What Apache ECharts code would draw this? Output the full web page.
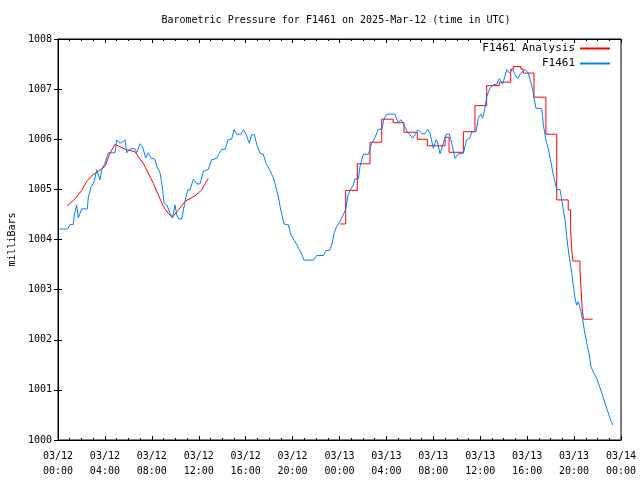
<!DOCTYPE html>
<html><head><meta charset="utf-8">
<script src="https://cdn.jsdelivr.net/npm/echarts@6/dist/echarts.min.js"></script>
<style>html,body{margin:0;padding:0;background:#fff}#c{width:640px;height:480px}</style>
</head><body><div id="c"></div>
<script>
const xTickLabels = ["03/12\n00:00","03/12\n04:00","03/12\n08:00","03/12\n12:00","03/12\n16:00","03/12\n20:00","03/13\n00:00","03/13\n04:00","03/13\n08:00","03/13\n12:00","03/13\n16:00","03/13\n20:00","03/14\n00:00"];
const yTickLabels = ["1000","1001","1002","1003","1004","1005","1006","1007","1008"];

// hours since 03/12 00:00 UTC
const obsHours = [0.09,0.83,1.02,1.30,1.39,1.59,1.73,2.02,2.50,2.58,2.79,3.09,3.30,3.58,3.73,4.01,4.29,4.86,5.00,5.20,5.43,5.71,5.86,6.14,6.56,6.71,6.99,7.19,7.48,7.70,7.93,8.27,8.42,8.70,8.89,9.04,9.27,9.55,9.75,9.98,10.12,10.32,10.55,10.83,11.06,11.25,11.54,11.83,12.11,12.39,12.81,13.10,13.53,13.67,13.96,14.24,14.52,14.81,15.01,15.24,15.58,15.80,16.03,16.31,16.51,16.74,16.94,17.22,17.50,17.73,18.02,18.30,18.50,18.78,18.99,19.27,19.64,19.87,20.12,20.40,20.57,20.86,20.97,21.77,22.06,22.62,22.85,23.13,23.34,23.53,23.76,24.04,24.32,24.55,24.70,24.90,25.18,25.32,25.60,25.75,26.03,26.46,26.75,27.03,27.31,27.60,27.79,28.02,28.73,29.01,29.22,29.44,29.78,30.24,30.72,31.01,31.29,31.52,31.72,32.00,32.23,32.34,32.57,32.85,33.08,33.36,33.57,33.85,34.13,34.56,34.84,35.13,35.27,35.64,35.83,36.04,36.21,36.40,36.55,36.83,37.12,37.40,37.63,37.91,38.26,38.48,38.77,38.96,39.19,39.47,39.82,40.10,40.30,40.47,40.58,40.75,41.24,41.38,41.61,41.80,42.01,42.23,42.52,42.80,42.95,43.08,43.23,43.37,43.51,43.65,43.80,43.93,44.08,44.22,44.36,44.50,44.59,44.73,44.87,45.08,45.27,45.44,45.70,45.98,46.27,46.55,46.83,47.06,47.29];
const obsValues = [1004.21,1004.21,1004.30,1004.30,1004.49,1004.69,1004.43,1004.61,1004.61,1004.83,1005.03,1005.16,1005.39,1005.19,1005.39,1005.53,1005.73,1005.73,1005.99,1005.93,1005.93,1005.99,1005.73,1005.81,1005.81,1005.73,1005.91,1005.86,1005.63,1005.73,1005.63,1005.60,1005.46,1005.33,1005.06,1004.73,1004.69,1004.53,1004.43,1004.69,1004.49,1004.41,1004.41,1004.76,1004.99,1004.99,1005.20,1005.11,1005.11,1005.36,1005.40,1005.59,1005.62,1005.69,1005.80,1005.80,1006.00,1006.00,1006.19,1006.10,1006.10,1006.19,1006.10,1005.92,1006.09,1006.09,1005.90,1005.72,1005.70,1005.52,1005.40,1005.26,1005.12,1004.86,1004.59,1004.31,1004.29,1004.09,1003.99,1003.88,1003.86,1003.66,1003.59,1003.59,1003.68,1003.68,1003.78,1003.78,1003.89,1004.12,1004.26,1004.36,1004.49,1004.62,1004.86,1004.98,1005.09,1005.21,1005.21,1005.46,1005.70,1005.70,1005.92,1006.04,1006.20,1006.20,1006.40,1006.50,1006.50,1006.32,1006.39,1006.32,1006.15,1006.02,1006.19,1006.11,1006.11,1006.20,1006.12,1005.82,1005.99,1005.95,1005.71,1005.92,1006.10,1006.10,1005.92,1005.62,1005.71,1005.72,1005.99,1006.03,1006.15,1006.15,1006.42,1006.50,1006.42,1006.62,1006.85,1007.02,1007.09,1007.10,1007.21,1007.10,1007.39,1007.32,1007.39,1007.29,1007.21,1007.32,1007.39,1007.32,1007.15,1006.99,1006.82,1006.62,1006.61,1006.29,1005.97,1005.82,1005.56,1005.29,1005.00,1005.00,1004.79,1004.59,1004.39,1004.06,1003.79,1003.56,1003.33,1003.09,1002.83,1002.69,1002.76,1002.79,1002.56,1002.40,1002.20,1001.93,1001.73,1001.46,1001.33,1001.20,1001.00,1000.80,1000.60,1000.43,1000.30];

// Analysis, smooth part (first 13 h)
const anaSmoothHours = [0.79,1.45,2.02,2.45,2.87,3.44,4.01,4.43,4.86,5.29,5.71,6.56,6.85,7.27,7.70,8.13,8.55,8.98,9.40,9.75,10.26,10.83,11.68,12.25,12.81];
const anaSmoothValues = [1004.67,1004.81,1004.98,1005.16,1005.27,1005.36,1005.46,1005.72,1005.90,1005.85,1005.80,1005.75,1005.65,1005.52,1005.32,1005.12,1004.89,1004.66,1004.52,1004.44,1004.59,1004.76,1004.87,1004.99,1005.22];

// Analysis, stepped part (time at which each level begins)
const anaStepHours = [24.04,24.53,25.52,26.60,27.60,28.56,29.50,30.63,31.49,33.00,33.34,34.56,35.55,36.55,37.62,38.60,38.82,39.47,39.67,40.58,41.60,42.52,43.50,43.70,43.80,43.90,44.50,44.60,44.70,44.80,45.58];
const anaStepValues = [1004.31,1004.98,1005.51,1005.94,1006.40,1006.33,1006.14,1006.00,1005.87,1006.04,1005.74,1006.15,1006.67,1007.07,1007.14,1007.40,1007.45,1007.40,1007.32,1006.84,1006.10,1004.79,1004.59,1004.20,1003.79,1003.57,1003.40,1003.00,1002.60,1002.41,1002.41];

const zip = (a, b) => a.map((v, i) => [v, b[i]]);
const FONT = '"DejaVu Sans Mono", "Liberation Mono", monospace';

const chart = echarts.init(document.getElementById('c'), null, {renderer: 'canvas'});
const axisBase = {
  type: 'value',
  axisLine: {show: true, lineStyle: {color: '#000', width: 1}},
  splitLine: {show: false},
};
chart.setOption({
  animation: false,
  backgroundColor: '#fff',
  title: {
    text: 'Barometric Pressure for F1461 on 2025-Mar-12 (time in UTC)',
    left: 331, top: 10, textAlign: 'center',
    textStyle: {fontFamily: FONT, fontSize: 10, fontWeight: 'normal', color: '#000'}
  },
  grid: {left: 58, right: 19, top: 39, bottom: 40, show: true, borderColor: '#000', borderWidth: 1, containLabel: false, outerBoundsMode: 'none'},
  legend: {
    orient: 'vertical', right: 25, top: 38, align: 'right',
    itemWidth: 30, itemHeight: 2, itemGap: 4, icon: 'rect',
    textStyle: {fontFamily: FONT, fontSize: 11, color: '#000'},
    data: [{name: 'F1461 Analysis'}, {name: 'F1461'}]
  },
  xAxis: [
    Object.assign({}, axisBase, {
      min: 0, max: 48, interval: 4, position: 'bottom',
      axisTick: {show: true, inside: true, length: 4, lineStyle: {color: '#000'}},
      minorTick: {show: true, splitNumber: 4, length: 2, lineStyle: {color: '#000'}},
      axisLabel: {
        fontFamily: FONT, fontSize: 10, color: '#000', margin: 9, lineHeight: 15,
        formatter: v => xTickLabels[Math.round(v / 4)]
      }
    }),
    Object.assign({}, axisBase, {
      min: 0, max: 48, interval: 4, position: 'top',
      axisTick: {show: true, inside: true, length: 4, lineStyle: {color: '#000'}},
      minorTick: {show: true, splitNumber: 4, length: 2, lineStyle: {color: '#000'}},
      axisLabel: {show: false}
    })
  ],
  yAxis: [
    Object.assign({}, axisBase, {
      min: 1000, max: 1008, interval: 1, position: 'left',
      name: 'milliBars', nameLocation: 'middle', nameGap: 41, nameRotate: 90,
      nameTextStyle: {fontFamily: FONT, fontSize: 10, color: '#000'},
      axisTick: {show: true, inside: true, length: 4, lineStyle: {color: '#000'}},
      axisLabel: {
        fontFamily: FONT, fontSize: 10, color: '#000', margin: 6,
        formatter: v => yTickLabels[Math.round(v - 1000)]
      }
    }),
    Object.assign({}, axisBase, {
      min: 1000, max: 1008, interval: 1, position: 'right',
      axisTick: {show: true, inside: true, length: 4, lineStyle: {color: '#000'}},
      axisLabel: {show: false}
    })
  ],
  series: [
    {
      name: 'F1461 Analysis', type: 'line', xAxisIndex: 0, yAxisIndex: 0,
      data: zip(anaSmoothHours, anaSmoothValues), showSymbol: false, symbol: 'none',
      lineStyle: {color: '#ff0000', width: 1}, itemStyle: {color: '#ff0000'}, z: 2
    },
    {
      name: 'F1461 Analysis', type: 'line', xAxisIndex: 0, yAxisIndex: 0,
      data: zip(anaStepHours, anaStepValues), step: 'end', showSymbol: false, symbol: 'none',
      lineStyle: {color: '#ff0000', width: 1}, itemStyle: {color: '#ff0000'}, z: 2
    },
    {
      name: 'F1461', type: 'line', xAxisIndex: 0, yAxisIndex: 0,
      data: zip(obsHours, obsValues), showSymbol: false, symbol: 'none',
      lineStyle: {color: '#0080ff', width: 1}, itemStyle: {color: '#0080ff'}, z: 3
    }
  ]
});
</script></body></html>
